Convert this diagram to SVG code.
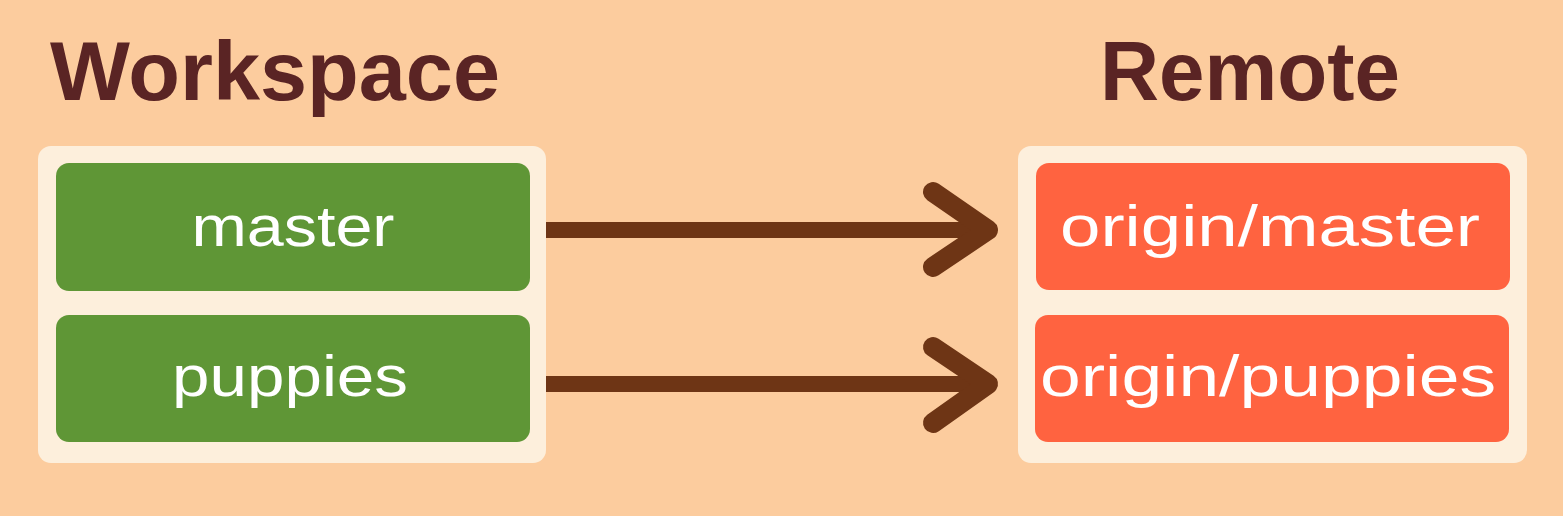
<svg xmlns="http://www.w3.org/2000/svg" width="1563" height="516" viewBox="0 0 1563 516">
<defs>
<style>
.title{font-family:"Liberation Sans",Arial,sans-serif;font-weight:bold;font-size:84px;fill:#5A2424}
.panel{fill:#FDEFDC}
.local{fill:#5F9636}
.remote{fill:#FF6340}
.lbl{font-family:"Liberation Sans",Arial,sans-serif;font-size:58px;fill:#FFFFFF;text-anchor:middle}
.conn{stroke:#6E3515;stroke-width:20;fill:none;stroke-linecap:round;stroke-linejoin:round}
.shaft{stroke:#6E3515;stroke-width:16;fill:none;stroke-linecap:butt}
</style>
</defs>
<rect width="1563" height="516" fill="#FCCC9E"/>
<g id="title-workspace"><text class="title" x="50" y="100" textLength="450" lengthAdjust="spacingAndGlyphs">Workspace</text></g>
<g id="title-remote"><text class="title" x="1100" y="100" textLength="300" lengthAdjust="spacingAndGlyphs">Remote</text></g>
<g id="workspace">
<rect class="panel" x="38" y="146" width="508" height="317" rx="13"/>
</g>
<g id="remote">
<rect class="panel" x="1018" y="146" width="509" height="317" rx="13"/>
</g>
<g id="master">
<rect class="local" x="56" y="163" width="474" height="128" rx="13"/>
<text class="lbl" x="293" y="246" textLength="203" lengthAdjust="spacingAndGlyphs">master</text>
</g>
<g id="puppies">
<rect class="local" x="56" y="315" width="474" height="127" rx="13"/>
<text class="lbl" x="290" y="396" textLength="236" lengthAdjust="spacingAndGlyphs">puppies</text>
</g>
<g id="origin-master">
<rect class="remote" x="1036" y="163" width="474" height="127" rx="13"/>
<text class="lbl" x="1270" y="246" textLength="420" lengthAdjust="spacingAndGlyphs">origin/master</text>
</g>
<g id="origin-puppies">
<rect class="remote" x="1035" y="315" width="474" height="127" rx="13"/>
<text class="lbl" x="1268" y="396" textLength="456" lengthAdjust="spacingAndGlyphs">origin/puppies</text>
</g>
<g id="connectors">
<line class="shaft" x1="546" y1="230" x2="985" y2="230"/>
<polyline class="conn" points="933,192 988,230 933,267"/>
<line class="shaft" x1="546" y1="384" x2="985" y2="384"/>
<polyline class="conn" points="933,347 988,384 933,423"/>
</g>
</svg>
